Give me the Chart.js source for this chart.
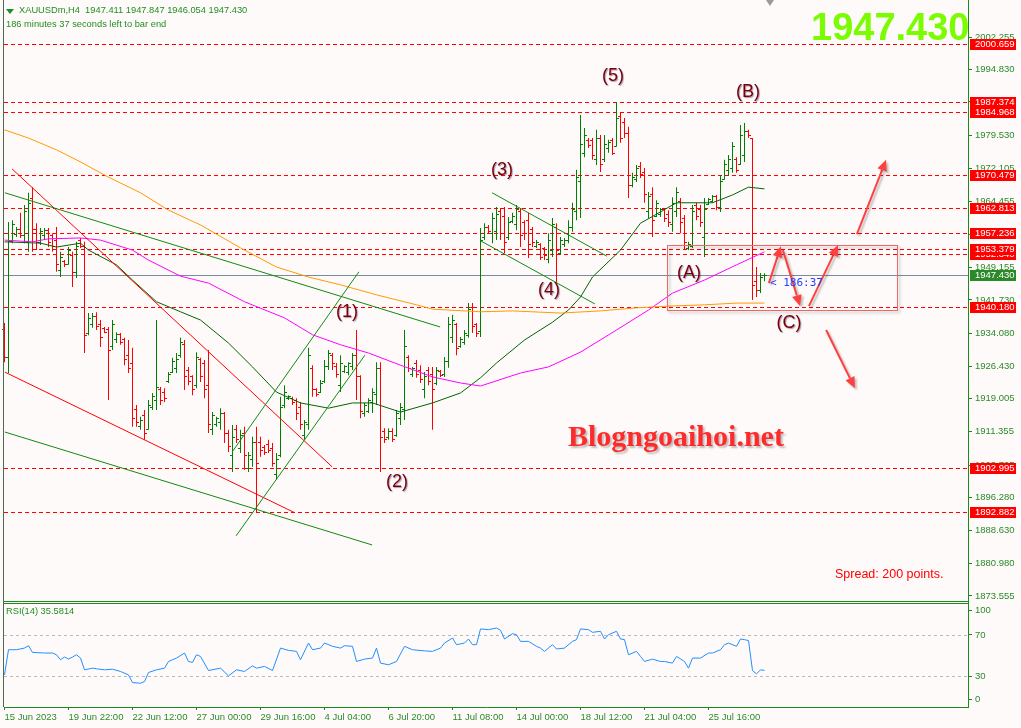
<!DOCTYPE html>
<html>
<head>
<meta charset="utf-8">
<script src="https://cdn.jsdelivr.net/npm/chart.js@4.4.0/dist/chart.umd.min.js"></script>
<style>
body { margin:0; background:#fffafa; width:1021px; height:728px; overflow:hidden; position:relative; font-family:'Liberation Sans', Arial, sans-serif; }
canvas { position:absolute; left:0; }
#main { top:0; }
#rsi { top:602px; }
.txt { position:absolute; white-space:nowrap; line-height:1; }
.hdr { color:#1f8f1f; font-size:9.3px; }
</style>
</head>
<body>
<canvas id="main" width="1021" height="602"></canvas>
<canvas id="rsi" width="1021" height="126"></canvas>

<div class="txt" style="left:6px;top:9px;width:0;height:0;border-left:4px solid transparent;border-right:4px solid transparent;border-top:5px solid #1f8f1f;"></div>
<div class="txt hdr" style="left:19px;top:6px;">XAUUSDm,H4&nbsp; 1947.411 1947.847 1946.054 1947.430</div>
<div class="txt hdr" style="left:6px;top:20px;">186 minutes 37 seconds left to bar end</div>
<div class="txt" style="left:766px;top:0px;width:0;height:0;border-left:4px solid transparent;border-right:4px solid transparent;border-top:6px solid #9a9a9a;"></div>
<div class="txt" style="left:811px;top:8px;font-size:38px;font-weight:bold;color:#7cfc00;">1947.430</div>
<div class="txt" style="left:568px;top:421px;font-family:'Liberation Serif',serif;font-size:30px;font-weight:bold;color:#ff2a2a;text-shadow:2px 2px 2px rgba(0,0,0,0.25);">Blogngoaihoi.net</div>
<div class="txt" style="left:835px;top:568px;font-size:12.5px;color:#ff0000;">Spread: 200 points.</div>
<div class="txt" style="left:770px;top:277px;font-family:'DejaVu Sans Mono',monospace;font-size:11px;color:#2040ff;">&lt; 186:37</div>
<div class="txt hdr" style="left:6px;top:607px;">RSI(14) 35.5814</div>

<script>
// H4 bars, index 0 = 15 Jun 2023 00:00
const opens = [1935.0,1928.5,1955.1,1956.8,1958.0,1956.5,1955.0,1965.0,1958.0,1955.0,
  1956.5,1957.8,1956.5,1955.5,1948.5,1950.5,1950.0,1952.0,1948.0,1955.5,
  1954.0,1934.0,1936.0,1938.0,1936.0,1935.2,1935.0,1931.0,1932.5,1933.8,
  1932.5,1929.0,1927.0,1916.5,1912.5,1915.0,1912.0,1917.0,1918.5,1921.0,
  1920.5,1923.0,1925.0,1926.0,1929.0,1931.5,1925.5,1924.0,1922.0,1928.0,
  1927.0,1922.0,1912.0,1913.0,1913.5,1915.5,1911.0,1906.0,1912.0,1907.5,
  1911.0,1903.0,1905.0,1909.0,1909.0,1907.8,1908.5,1907.5,1901.5,1905.8,
  1917.5,1919.0,1919.0,1918.5,1917.0,1910.5,1913.0,1926.0,1921.0,1920.5,
  1923.0,1926.5,1929.0,1926.5,1922.0,1925.2,1925.0,1926.5,1929.0,1924.0,
  1915.5,1916.0,1918.0,1920.0,1926.0,1911.5,1910.0,1911.5,1910.5,1914.5,
  1916.5,1928.5,1924.5,1927.0,1925.5,1921.0,1925.5,1924.5,1922.5,1925.2,
  1924.5,1927.5,1933.0,1936.0,1931.0,1932.0,1933.5,1940.0,1936.0,1934.5,
  1956.0,1958.5,1957.0,1957.5,1962.0,1961.0,1956.0,1959.8,1959.0,1962.0,
  1959.5,1960.0,1958.0,1954.0,1954.5,1953.5,1951.0,1953.0,1958.5,1952.5,
  1954.5,1955.5,1958.5,1962.0,1969.0,1975.5,1978.5,1978.5,1974.0,1979.0,
  1974.0,1976.5,1978.5,1977.0,1984.0,1982.5,1980.0,1968.0,1969.5,1972.5,
  1971.0,1962.0,1966.0,1961.0,1961.5,1962.5,1961.5,1959.0,1962.0,1964.5,
  1960.5,1953.5,1954.0,1963.5,1962.5,1956.0,1963.8,1964.3,1965.5,1963.0,
  1969.5,1971.5,1972.0,1974.0,1973.0,1975.0,1980.5,1979.0,1946.0,1944.0,
  1947.411];
const highs = [1936.4,1959.7,1960.1,1958.5,1961.8,1963.6,1966.4,1967.7,1959.4,1958.3,
  1958.3,1958.3,1957.1,1958.5,1952.8,1950.9,1953.9,1952.8,1955.1,1956.0,
  1955.1,1938.7,1938.7,1938.9,1937.1,1935.5,1935.5,1937.1,1934.3,1934.1,
  1933.0,1932.5,1930.7,1917.5,1914.8,1916.4,1918.7,1920.3,1937.1,1921.7,
  1921.4,1925.1,1928.4,1929.5,1933.0,1932.5,1926.3,1924.4,1929.7,1928.4,
  1927.9,1930.2,1915.9,1914.8,1916.8,1915.9,1911.8,1912.9,1912.9,1911.8,
  1912.5,1906.7,1910.2,1912.5,1910.2,1908.3,1909.5,1908.8,1906.5,1919.4,
  1922.1,1919.8,1919.4,1919.1,1918.2,1914.1,1930.7,1926.7,1921.4,1923.3,
  1927.9,1930.2,1929.5,1927.2,1929.0,1926.7,1927.4,1929.5,1934.8,1924.4,
  1918.0,1919.1,1921.4,1927.4,1927.4,1912.2,1912.2,1912.2,1916.4,1918.0,
  1934.8,1929.0,1926.3,1927.9,1926.7,1925.1,1926.3,1926.3,1926.3,1925.6,
  1928.6,1937.8,1938.3,1936.4,1933.2,1934.8,1941.0,1941.0,1936.4,1958.3,
  1959.4,1959.0,1961.8,1963.1,1962.9,1963.1,1960.8,1961.8,1963.6,1962.9,
  1960.1,1961.8,1958.5,1955.5,1954.8,1953.9,1957.1,1960.6,1959.4,1956.2,
  1956.0,1960.1,1964.1,1971.7,1984.3,1981.3,1979.0,1979.0,1980.9,1979.7,
  1979.7,1978.6,1979.0,1987.3,1985.0,1983.6,1981.6,1971.0,1972.8,1973.5,
  1972.1,1966.6,1967.7,1964.7,1962.9,1962.9,1962.4,1965.4,1967.7,1965.2,
  1961.3,1955.1,1963.6,1964.1,1963.6,1965.2,1965.2,1965.9,1965.9,1970.5,
  1974.0,1975.1,1978.1,1974.6,1982.0,1982.5,1980.9,1979.0,1949.3,1947.9,
  1947.847];
const lows = [1927.4,1924.9,1954.8,1956.2,1956.0,1954.8,1952.8,1952.8,1953.2,1954.4,
  1955.5,1953.9,1952.8,1948.2,1947.0,1949.3,1949.8,1944.7,1946.8,1953.7,
  1929.5,1933.6,1935.3,1934.8,1930.9,1934.1,1918.7,1930.2,1931.8,1931.4,
  1926.7,1924.9,1912.5,1912.5,1911.8,1909.5,1911.8,1916.4,1916.4,1917.5,
  1918.2,1922.6,1924.9,1924.9,1928.4,1921.0,1922.1,1919.8,1921.4,1922.8,
  1919.1,1911.1,1910.6,1912.5,1911.8,1908.8,1906.7,1902.1,1908.8,1906.5,
  1902.6,1902.1,1903.3,1892.7,1905.6,1906.0,1906.5,1903.3,1900.3,1905.5,
  1916.8,1918.7,1917.5,1914.1,1911.8,1909.5,1911.8,1919.4,1919.4,1920.3,
  1922.6,1925.6,1925.6,1923.8,1920.5,1924.9,1924.4,1925.6,1918.7,1914.5,
  1914.8,1915.7,1915.7,1917.5,1902.1,1908.8,1909.5,1909.0,1910.2,1912.9,
  1914.1,1925.1,1924.0,1923.8,1922.6,1919.1,1922.1,1911.8,1922.1,1924.0,
  1924.0,1926.1,1931.8,1929.0,1930.7,1931.4,1933.0,1934.1,1933.2,1933.2,
  1955.5,1957.1,1954.8,1955.5,1955.5,1952.5,1955.5,1959.4,1957.8,1953.9,
  1955.5,1951.4,1953.9,1953.7,1950.9,1950.9,1950.2,1951.6,1945.6,1952.1,
  1953.9,1954.8,1957.4,1960.1,1960.6,1974.6,1976.7,1974.0,1972.8,1971.2,
  1973.5,1975.6,1975.1,1977.0,1977.9,1979.0,1965.2,1967.7,1968.9,1969.8,
  1964.1,1960.6,1956.2,1960.8,1960.8,1959.7,1958.5,1957.4,1960.8,1957.1,
  1953.2,1953.2,1953.7,1960.1,1958.5,1951.6,1963.6,1964.1,1962.4,1962.0,
  1969.4,1970.5,1971.0,1971.0,1972.8,1973.5,1979.0,1941.7,1942.4,1943.3,
  1946.054];
const closes = [1928.5,1955.1,1959.0,1958.0,1956.5,1962.0,1964.0,1958.0,1955.0,1957.5,
  1957.8,1955.0,1954.0,1950.0,1951.5,1949.8,1953.0,1948.0,1954.0,1954.0,
  1933.5,1937.5,1938.0,1935.5,1933.0,1934.3,1930.0,1936.0,1933.8,1932.0,
  1928.0,1926.0,1914.5,1913.5,1914.0,1911.0,1917.5,1919.5,1921.5,1918.5,
  1919.0,1924.5,1927.5,1928.0,1932.0,1924.0,1923.0,1921.0,1928.5,1924.0,
  1921.0,1913.0,1915.0,1914.5,1915.5,1911.0,1908.0,1910.0,1909.5,1910.5,
  1906.0,1906.0,1909.0,1904.0,1907.0,1906.5,1907.0,1904.0,1905.0,1917.0,
  1920.5,1919.6,1918.0,1915.5,1913.0,1913.5,1929.0,1921.0,1920.0,1922.5,
  1926.5,1929.5,1927.0,1924.5,1927.0,1926.3,1927.0,1929.0,1924.0,1916.0,
  1917.5,1918.5,1920.5,1926.0,1910.0,1909.5,1911.5,1909.5,1915.5,1917.0,
  1931.0,1926.0,1926.0,1924.5,1923.5,1924.0,1923.0,1921.0,1925.5,1924.3,
  1927.5,1936.0,1937.0,1930.5,1932.5,1934.0,1939.5,1935.5,1934.0,1955.5,
  1958.5,1957.5,1960.5,1961.5,1957.0,1955.0,1959.5,1961.0,1962.5,1956.5,
  1957.0,1954.5,1955.0,1955.0,1951.5,1952.0,1955.5,1959.0,1953.0,1955.5,
  1955.5,1958.5,1962.5,1970.0,1977.5,1979.5,1977.2,1975.0,1979.0,1973.0,
  1977.5,1978.0,1975.5,1983.5,1979.0,1980.0,1968.0,1970.0,1972.0,1970.5,
  1966.0,1965.5,1960.0,1964.0,1962.5,1960.5,1959.5,1964.0,1966.5,1959.5,
  1955.0,1954.5,1962.0,1961.0,1959.5,1962.5,1964.8,1965.5,1963.0,1969.0,
  1973.0,1974.0,1977.0,1971.5,1979.5,1980.5,1979.5,1945.0,1944.0,1947.0,
  1947.430];

// moving averages (bar index, price)
const maOrangeIdx = [0,6,13,19,26,34,41,49,59,68,76,84,93,103,107,119,127,139,149,158,166,175,183,190];
const maOrangeVal = [1980.9,1979.0,1976.3,1973.5,1970.0,1966.4,1962.4,1959.0,1953.7,1949.3,1947.0,1945.2,1942.9,1940.6,1939.6,1939.0,1939.2,1938.7,1939.2,1939.9,1940.3,1940.6,1941.0,1941.0];
const maMagentaIdx = [0,7,11,19,24,32,36,44,51,60,70,77,84,91,99,107,114,119,129,136,144,153,161,167,175,183,190];
const maMagentaVal = [1955.5,1955.1,1955.8,1956.0,1955.5,1953.2,1950.9,1947.2,1945.6,1941.3,1937.6,1933.7,1931.4,1929.5,1926.7,1924.0,1922.6,1921.9,1924.9,1926.3,1929.7,1934.8,1939.4,1943.3,1946.3,1949.8,1952.8];
const maGreenIdx = [0,9,13,19,21,28,32,38,44,49,56,62,68,74,81,87,92,99,107,114,119,123,130,137,141,144,147,154,159,164,168,177,182,186,190];
const maGreenVal = [1955.1,1954.8,1953.9,1954.8,1953.2,1949.8,1946.3,1941.3,1939.0,1937.1,1931.8,1926.3,1920.5,1918.0,1916.8,1918.0,1918.0,1915.9,1918.0,1920.3,1923.8,1927.2,1932.5,1936.6,1939.4,1942.4,1947.0,1953.2,1959.4,1962.0,1964.1,1964.1,1965.9,1967.7,1967.3];

// trend lines [[idx, price], [idx, price]]
const trendGreen = [
  [[0.1, 1966.4], [108.9, 1935.5]],
  [[0.1, 1911.3], [91.9, 1885.3]],
  [[56.9, 1906.7], [88.6, 1948.2]],
  [[57.9, 1887.4], [90.1, 1929.0]],
  [[121.9, 1966.4], [150.6, 1951.8]],
  [[119.1, 1955.3], [147.6, 1940.8]]
];
const trendRed = [
  [[1.9, 1971.9], [81.9, 1903.3]],
  [[0.1, 1925.1], [72.6, 1892.7]]
];

// horizontal levels and current price
const levels = [2000.659, 1987.374, 1984.968, 1970.479, 1962.813, 1957.236, 1952.340, 1953.379, 1940.180, 1902.995, 1892.882];
const bid = 1947.430;

// wave labels
const waveText = ['(1)', '(2)', '(3)', '(4)', '(5)', '(A)', '(B)', '(C)'];
const waveIdx = [85.6, 98.1, 124.4, 136.1, 152.1, 171.1, 185.9, 196.1];
const wavePrice = [1938.9, 1899.8, 1971.6, 1944.0, 1993.3, 1947.9, 1989.6, 1936.4];

// projection arrows
const arrowFrom = [[191.1, 1945.6], [194.6, 1953.2], [201.1, 1940.3], [213.1, 1956.9], [205.4, 1934.8]];
const arrowTo = [[194.1, 1954.1], [198.9, 1940.3], [208.4, 1954.4], [220.4, 1974.0], [212.6, 1921.4]];

// zone box [idx1, idx2, priceTop, priceBottom]
const boxZone = [165.6, 223.1, 1954.4, 1939.4];

// axis ticks
const priceTicks = [2002.255, 1994.830, 1987.405, 1979.530, 1972.105, 1964.455, 1956.805, 1949.155, 1941.730, 1934.080, 1926.430, 1919.005, 1911.355, 1903.705, 1896.280, 1888.630, 1880.980, 1873.555];
const timeIdx = [0, 16, 32, 48, 64, 80, 96, 112, 128, 144, 160, 176];
const timeLabels = ['15 Jun 2023', '19 Jun 22:00', '22 Jun 12:00', '27 Jun 00:00', '29 Jun 16:00', '4 Jul 04:00', '6 Jul 20:00', '11 Jul 08:00', '14 Jul 00:00', '18 Jul 12:00', '21 Jul 04:00', '25 Jul 16:00'];

// RSI(14)
const rsiIdx = [0,1,3,5,6,7,10,12,13,14,15,16,17,18,19,20,22,23,25,27,29,31,32,34,35,36,38,40,41,43,45,46,47,48,49,51,54,56,58,60,62,63,65,67,69,71,73,74,76,77,79,80,82,84,85,87,88,90,92,93,94,96,98,100,102,105,107,109,110,112,113,115,116,117,118,119,121,123,124,125,127,128,129,131,133,134,135,137,138,140,142,143,144,146,147,149,150,151,153,154,155,156,158,159,160,162,164,165,167,168,170,171,172,174,176,177,179,180,181,183,184,185,186,187,188,189,190];
const rsiVal = [31.2,55.6,55.6,57.2,59.5,53.0,52.4,52.4,50.7,45.9,48.5,46.5,48.5,50.7,47.5,36.1,37.7,37.1,36.1,36.7,34.5,31.2,23.7,23.1,24.7,33.5,36.1,37.7,44.2,47.5,52.4,44.2,43.3,50.7,49.1,35.4,37.7,30.2,36.1,34.5,40.0,37.7,39.4,35.4,57.2,55.0,54.0,45.9,62.1,55.6,57.2,62.1,58.9,57.2,59.5,58.9,44.2,46.5,47.5,57.2,42.6,41.0,44.2,58.9,55.6,54.5,54.0,57.2,62.1,67.0,60.5,62.1,66.0,60.5,60.5,75.8,75.1,76.7,74.5,66.0,71.2,70.2,63.7,63.7,58.9,57.2,54.0,60.5,56.3,57.2,63.7,65.4,75.8,75.1,72.5,73.5,66.0,70.2,73.5,66.0,65.4,50.7,54.0,49.1,44.2,46.5,44.2,44.2,42.6,49.1,44.2,37.7,47.5,47.5,52.4,52.4,55.6,60.5,62.1,58.9,66.0,65.4,64.5,35.4,32.2,36.1,35.58];
const rsiLevels = [70, 30];

const XMIN = -0.125, XMAX = 240.875;
const UP = '#008000', DOWN = '#ff0000', AXIS = '#1c8a1c', LABEL = '#2a8a2a';
const FONT = 'Liberation Sans';

const segment = (pts, color) => ({
    type: 'line', data: pts.map(p => ({x: p[0], y: p[1]})),
    borderColor: color, borderWidth: 1, pointRadius: 0, order: 2
});
const maLine = (idx, val, color) => ({
    type: 'line', data: idx.map((x, k) => ({x: x, y: val[k]})),
    borderColor: color, borderWidth: 1, pointRadius: 0, order: 5
});
const noPad = s => { s.paddingTop = 0; s.paddingBottom = 0; s.paddingLeft = 0; s.paddingRight = 0; };

// crisp horizontal line at a scale value
function levelLine(chart, v, color, dash) {
    const ctx = chart.ctx, area = chart.chartArea;
    const y = Math.round(chart.scales.y.getPixelForValue(v)) + 0.5;
    ctx.save();
    ctx.strokeStyle = color;
    ctx.lineWidth = 1;
    ctx.setLineDash(dash);
    ctx.beginPath();
    ctx.moveTo(area.left, y);
    ctx.lineTo(area.right, y);
    ctx.stroke();
    ctx.restore();
}

// open/close ticks of the bars
const barTicks = {
    id: 'barTicks',
    beforeDatasetsDraw(chart) {
        levels.forEach(v => levelLine(chart, v, '#ff0000', [4, 3]));
        levelLine(chart, bid, '#7a8b9b', []);
    },
    afterDatasetDraw(chart, args) {
        if (args.index !== 0) return;
        const ctx = chart.ctx, xs = chart.scales.x, ys = chart.scales.y;
        ctx.save();
        for (let i = 0; i < closes.length; i++) {
            const cx = xs.getPixelForValue(i);
            ctx.fillStyle = closes[i] >= opens[i] ? UP : DOWN;
            ctx.fillRect(cx - 2.5, Math.floor(ys.getPixelForValue(opens[i])), 2, 1);
            ctx.fillRect(cx + 0.5, Math.floor(ys.getPixelForValue(closes[i])), 2, 1);
        }
        ctx.restore();
    }
};

function drawArrow(ctx, x1, y1, x2, y2) {
    const a = Math.atan2(y2 - y1, x2 - x1), L = 11, W = 5;
    const bx = x2 - L * Math.cos(a), by = y2 - L * Math.sin(a);
    ctx.beginPath();
    ctx.moveTo(x1, y1);
    ctx.lineTo(bx, by);
    ctx.stroke();
    ctx.beginPath();
    ctx.moveTo(x2, y2);
    ctx.lineTo(bx + W * Math.sin(a), by - W * Math.cos(a));
    ctx.lineTo(bx - W * Math.sin(a), by + W * Math.cos(a));
    ctx.closePath();
    ctx.fill();
}

const overlay = {
    id: 'overlay',
    afterDatasetsDraw(chart) {
        const ctx = chart.ctx, xs = chart.scales.x, ys = chart.scales.y;
        ctx.save();
        // zone box
        const bx1 = xs.getPixelForValue(boxZone[0]), bx2 = xs.getPixelForValue(boxZone[1]);
        const by1 = ys.getPixelForValue(boxZone[2]), by2 = ys.getPixelForValue(boxZone[3]);
        ctx.shadowColor = 'rgba(0,0,0,0.3)';
        ctx.shadowBlur = 3;
        ctx.shadowOffsetX = 2;
        ctx.shadowOffsetY = 2;
        ctx.strokeStyle = '#e86a6a';
        ctx.lineWidth = 1;
        ctx.strokeRect(Math.round(bx1) + 0.5, Math.round(by1) + 0.5, Math.round(bx2 - bx1), Math.round(by2 - by1));
        // arrows
        ctx.shadowColor = 'rgba(0,0,0,0.25)';
        ctx.shadowBlur = 2;
        ctx.strokeStyle = '#ff4040';
        ctx.fillStyle = '#ff4040';
        ctx.lineWidth = 2;
        arrowFrom.forEach((f, k) => {
            const t = arrowTo[k];
            drawArrow(ctx, xs.getPixelForValue(f[0]), ys.getPixelForValue(f[1]),
                xs.getPixelForValue(t[0]), ys.getPixelForValue(t[1]));
        });
        // wave labels
        ctx.shadowColor = 'rgba(60,40,120,0.45)';
        ctx.shadowBlur = 1;
        ctx.shadowOffsetX = 1;
        ctx.shadowOffsetY = 1;
        ctx.font = '18px ' + FONT;
        ctx.fillStyle = '#7a0000';
        ctx.textAlign = 'center';
        ctx.textBaseline = 'middle';
        waveText.forEach((t, k) => {
            ctx.fillText(t, xs.getPixelForValue(waveIdx[k]), ys.getPixelForValue(wavePrice[k]));
        });
        ctx.restore();
    },
    afterDraw(chart) {
        const ctx = chart.ctx, ys = chart.scales.y, area = chart.chartArea;
        ctx.save();
        ctx.font = '9.5px ' + FONT;
        ctx.textBaseline = 'middle';
        ctx.textAlign = 'left';
        const tag = (v, bg) => {
            const y = Math.round(ys.getPixelForValue(v));
            ctx.fillStyle = bg;
            ctx.fillRect(970, y - 5, 46, 11);
            ctx.fillStyle = '#ffffff';
            ctx.fillText(v.toFixed(3), 975, y + 0.5);
        };
        levels.forEach(v => tag(v, '#ff0000'));
        tag(bid, '#2a8a2a');
        // panel frame
        ctx.fillStyle = '#4c6a4c';
        ctx.fillRect(3, 0, 1, 602);
        ctx.fillStyle = AXIS;
        ctx.fillRect(3, 601, area.right - 2, 1);
        ctx.fillRect(area.right, area.bottom, 1, 3);
        ctx.restore();
    }
};

const candleBars = {
    type: 'bar',
    data: highs.map((h, i) => ({x: i, y: [lows[i], h]})),
    backgroundColor: closes.map((c, i) => c >= opens[i] ? UP : DOWN),
    borderWidth: 0,
    barThickness: 1,
    inflateAmount: 0,
    order: 9
};

const mainDatasets = [candleBars];
mainDatasets.push(maLine(maOrangeIdx, maOrangeVal, '#ff9a00'));
mainDatasets.push(maLine(maMagentaIdx, maMagentaVal, '#ff00ff'));
mainDatasets.push(maLine(maGreenIdx, maGreenVal, '#006400'));
trendGreen.forEach(t => mainDatasets.push(segment(t, '#108a10')));
trendRed.forEach(t => mainDatasets.push(segment(t, '#ff0000')));

new Chart(document.getElementById('main'), {
    type: 'line',
    data: { datasets: mainDatasets },
    options: {
        responsive: false,
        animation: false,
        events: [],
        layout: { padding: { left: 4, right: 0, top: 0, bottom: 3 } },
        plugins: { legend: { display: false }, tooltip: { enabled: false } },
        scales: {
            x: { type: 'linear', min: XMIN, max: XMAX, offset: false, display: false },
            y: {
                type: 'linear',
                position: 'right',
                min: 1872.85,
                max: 2010.8,
                afterBuildTicks: s => { s.ticks = priceTicks.map(v => ({ value: v })); },
                afterFit: s => { s.width = 53; noPad(s); },
                grid: { drawOnChartArea: false, drawTicks: true, tickLength: 4, color: AXIS, tickColor: AXIS },
                border: { color: AXIS, width: 1 },
                ticks: {
                    color: LABEL, padding: 3, autoSkip: false,
                    font: { family: FONT, size: 9.5 },
                    callback: v => v.toFixed(3)
                }
            }
        }
    },
    plugins: [barTicks, overlay]
});

// RSI panel
const rsiFrame = {
    id: 'rsiFrame',
    beforeDatasetsDraw(chart) {
        rsiLevels.forEach(v => levelLine(chart, v, '#b8b8b8', [3, 3]));
    },
    afterDraw(chart) {
        const ctx = chart.ctx, area = chart.chartArea;
        ctx.save();
        ctx.fillStyle = AXIS;
        ctx.fillRect(3, 1, area.right - 2, 1);
        ctx.fillRect(area.right, 0, 1, area.top);
        ctx.fillStyle = '#4c6a4c';
        ctx.fillRect(3, 0, 1, area.bottom);
        ctx.fillStyle = LABEL;
        ctx.font = '9.5px ' + FONT;
        ctx.textBaseline = 'middle';
        ctx.fillText('100', 975, 8);
        ctx.fillText('0', 975, 97);
        ctx.fillStyle = AXIS;
        ctx.fillRect(area.right, 8, 4, 1);
        ctx.fillRect(area.right, 97, 4, 1);
        ctx.restore();
    }
};

const rsiDatasets = [{
    type: 'line',
    data: rsiIdx.map((x, k) => ({ x: x, y: rsiVal[k] })),
    borderColor: '#1e90ff', borderWidth: 1, pointRadius: 0, order: 1
}];

new Chart(document.getElementById('rsi'), {
    type: 'line',
    data: { datasets: rsiDatasets },
    options: {
        responsive: false,
        animation: false,
        events: [],
        layout: { padding: { left: 4, right: 0, top: 2, bottom: 0 } },
        plugins: { legend: { display: false }, tooltip: { enabled: false } },
        scales: {
            x: {
                type: 'linear', min: XMIN, max: XMAX, offset: false,
                afterBuildTicks: s => { s.ticks = timeIdx.map(v => ({ value: v })); },
                afterFit: s => { s.height = 21; noPad(s); },
                grid: { drawOnChartArea: false, drawTicks: true, tickLength: 3, color: AXIS, tickColor: AXIS },
                border: { color: AXIS, width: 1 },
                ticks: {
                    color: LABEL, padding: 2, autoSkip: false, maxRotation: 0, align: 'start',
                    font: { family: FONT, size: 9.5 },
                    callback: v => timeLabels[timeIdx.indexOf(v)]
                }
            },
            y: {
                type: 'linear', position: 'right', min: 0, max: 100,
                afterBuildTicks: s => { s.ticks = rsiLevels.map(v => ({ value: v })); },
                afterFit: s => { s.width = 53; noPad(s); },
                grid: { drawOnChartArea: false, drawTicks: true, tickLength: 4, color: AXIS, tickColor: AXIS },
                border: { color: AXIS, width: 1 },
                ticks: { color: LABEL, padding: 3, font: { family: FONT, size: 9.5 } }
            }
        }
    },
    plugins: [rsiFrame]
});
</script>
</body>
</html>
